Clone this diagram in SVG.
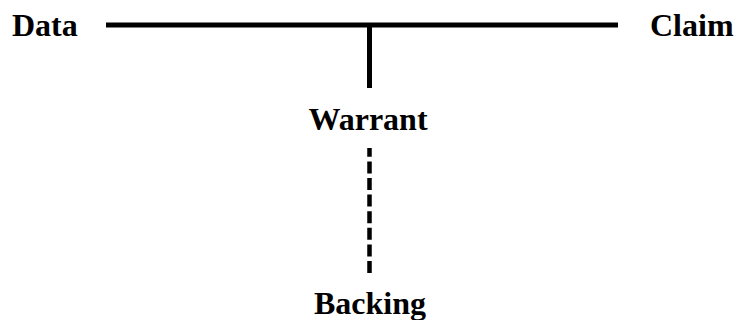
<svg xmlns="http://www.w3.org/2000/svg" width="738" height="320" viewBox="0 0 738 320">
<style>
text{font-family:"Liberation Serif","Times New Roman",serif;font-weight:bold;font-size:32px;fill:#000}
.solid{stroke:#000;stroke-width:5;fill:none}
.dash{stroke:#000;stroke-width:4.5;fill:none;stroke-dasharray:12 4.6}
</style>
<rect width="738" height="320" fill="#fff"/>
<g id="connectors">
<line class="solid" x1="106" y1="25" x2="618" y2="25"/>
<line class="solid" x1="369.5" y1="25" x2="369.5" y2="88"/>
<line class="dash" x1="369.5" y1="273" x2="369.5" y2="148"/>
</g>
<g id="data"><text x="12" y="36">Data</text></g>
<g id="claim"><text x="650" y="36">Claim</text></g>
<g id="warrant"><text x="368" y="130" text-anchor="middle">Warrant</text></g>
<g id="backing"><text x="370" y="314" text-anchor="middle">Backing</text></g>
</svg>
